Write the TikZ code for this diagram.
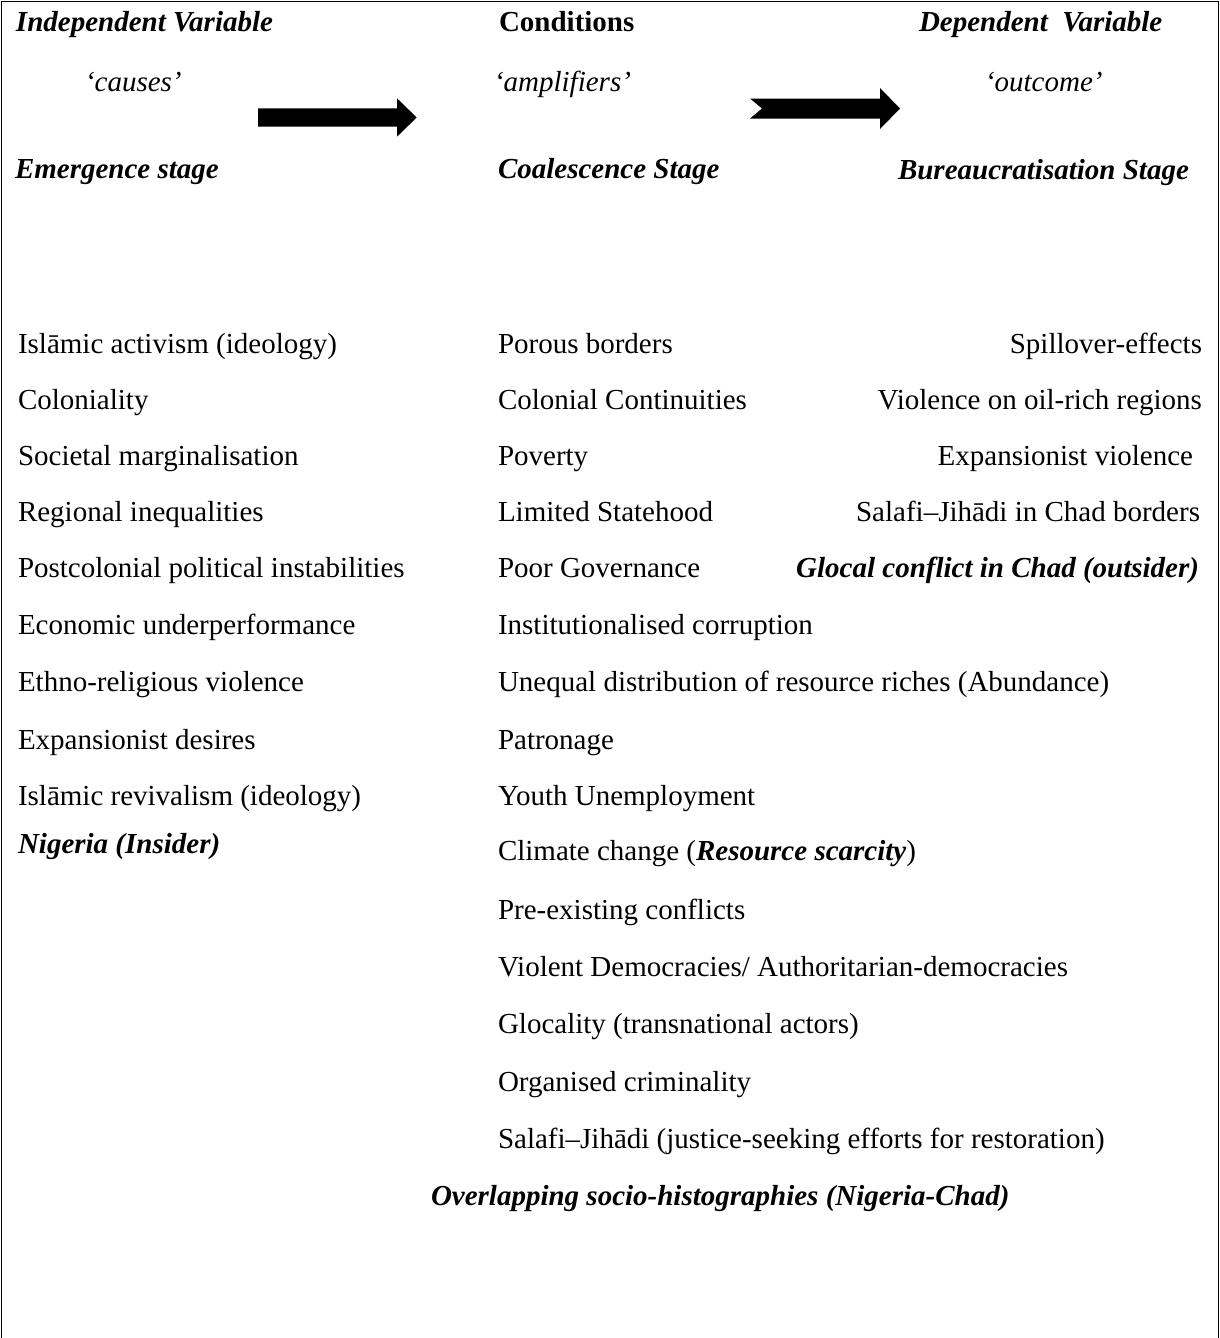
\documentclass[tikz,border=0pt]{standalone}
\usepackage{fontspec}
\setmainfont{Liberation Serif}
\begin{document}
\begin{tikzpicture}[x=1pt,y=-1pt,
  every node/.style={inner sep=0pt,outer sep=0pt,font=\fontsize{29}{34}\selectfont},
  lt/.style={anchor=base west},
  rt/.style={anchor=base east},
  hd/.style={font=\fontsize{29}{34}\selectfont\bfseries\itshape},
  it/.style={font=\fontsize{29}{34}\selectfont\itshape},
  frame/.style={line width=1.8pt},
  blockarrow/.style={fill=black}]
\useasboundingbox (0,0) rectangle (1220,1338);
\draw[frame] (1.5,1338) -- (1.5,1.5) -- (1218.5,1.5) -- (1218.5,1338);
% headers
\node[lt,hd] (iv) at (16,32) {Independent Variable};
\node[lt,font=\fontsize{29}{34}\selectfont\bfseries] (cond) at (499,32) {Conditions};
\node[lt,hd] (dv) at (919,32) {Dependent\ \ Variable};
\node[lt,it] (causes) at (85,91) {‘causes’};
\node[lt,it] (ampl) at (494,91) {‘amplifiers’};
\node[lt,it] (outc) at (985,92) {‘outcome’};
\node[lt,hd] (emst) at (15,178) {Emergence stage};
\node[lt,hd] (cost) at (498,178) {Coalescence Stage};
\node[lt,hd] (bust) at (898,179) {Bureaucratisation Stage};
% block arrows
\fill[blockarrow] (258,108.3) -- (397,108.3) -- (397,98.3) -- (416.7,117.5) -- (397,136.7) -- (397,126.7) -- (258,126.7) -- cycle;
\fill[blockarrow] (750,98.5) -- (880,98.5) -- (880,88) -- (900,108.5) -- (880,129) -- (880,118.5) -- (750,118.5) -- (762,108.5) -- cycle;
% left column
\node[lt] (l1) at (18,353) {Islāmic activism (ideology)};
\node[lt] (l2) at (18,409) {Coloniality};
\node[lt] (l3) at (18,465) {Societal marginalisation};
\node[lt] (l4) at (18,521) {Regional inequalities};
\node[lt] (l5) at (18,577) {Postcolonial political instabilities};
\node[lt] (l6) at (18,634) {Economic underperformance};
\node[lt] (l7) at (18,691) {Ethno-religious violence};
\node[lt] (l8) at (18,749) {Expansionist desires};
\node[lt] (l9) at (18,805) {Islāmic revivalism (ideology)};
\node[lt,hd] (l10) at (18,853) {Nigeria (Insider)};
% middle column
\node[lt] (m1) at (498,353) {Porous borders};
\node[lt] (m2) at (498,409) {Colonial Continuities};
\node[lt] (m3) at (498,465) {Poverty};
\node[lt] (m4) at (498,521) {Limited Statehood};
\node[lt] (m5) at (498,577) {Poor Governance};
\node[lt] (m6) at (498,634) {Institutionalised corruption};
\node[lt] (m7) at (498,691) {Unequal distribution of resource riches (Abundance)};
\node[lt] (m8) at (498,749) {Patronage};
\node[lt] (m9) at (498,805) {Youth Unemployment};
\node[lt] (m10) at (498,860) {Climate change (\textbf{\textit{Resource scarcity}})};
\node[lt] (m11) at (498,919) {Pre-existing conflicts};
\node[lt] (m12) at (498,976) {Violent Democracies/ Authoritarian-democracies};
\node[lt] (m13) at (498,1033) {Glocality (transnational actors)};
\node[lt] (m14) at (498,1091) {Organised criminality};
\node[lt] (m15) at (498,1148) {Salafi–Jihādi (justice-seeking efforts for restoration)};
\node[lt,hd] (ov) at (431,1205) {Overlapping socio-histographies (Nigeria-Chad)};
% right column
\node[rt] (r1) at (1202,353) {Spillover-effects};
\node[rt] (r2) at (1202,409) {Violence on oil-rich regions};
\node[rt] (r3) at (1193,465) {Expansionist violence};
\node[rt] (r4) at (1200,521) {Salafi–Jihādi in Chad borders};
\node[rt,hd] (r5) at (1199,577) {Glocal conflict in Chad (outsider)};
\end{tikzpicture}
\end{document}
